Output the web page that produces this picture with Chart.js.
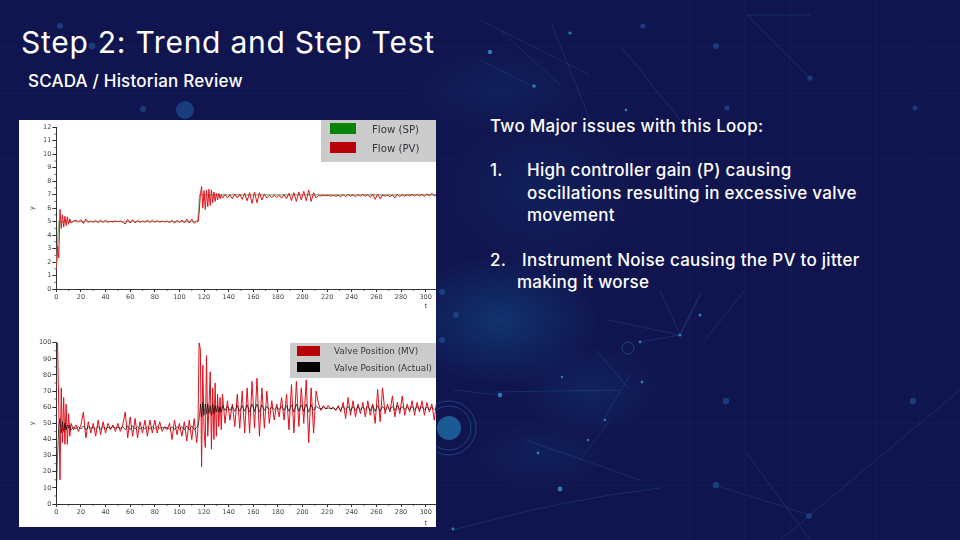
<!DOCTYPE html>
<html>
<head>
<meta charset="utf-8">
<title>Step 2: Trend and Step Test</title>
<script src="https://cdn.jsdelivr.net/npm/chart.js@4"></script>
<style>
  html, body { margin: 0; padding: 0; }
  body { width: 960px; height: 540px; overflow: hidden; position: relative; background: #11154f; font-family: Inter, sans-serif; }
  #bg { position: absolute; left: 0; top: 0; width: 960px; height: 540px; }
  .txt { position: absolute; color: #fff; white-space: nowrap; line-height: 1; }
  #title { left: 21px; top: 27px; font-size: 30px; letter-spacing: 0.75px; }
  #sub { left: 28px; top: 73px; font-size: 17px; letter-spacing: 0.2px; font-weight: 500; }
  .body { font-size: 17px; letter-spacing: 0.27px; font-weight: 500; }
  #panel { position: absolute; left: 19px; top: 120px; width: 417px; height: 407px; background: #fff; }
  canvas.plot { position: absolute; left: 19px; filter: blur(0.45px); }
  .legend { position: absolute; background: #cbcbcb; filter: blur(0.3px); }
  .legend i { position: absolute; display: block; }
  .legend span { position: absolute; font-family: "DejaVu Sans", sans-serif; color: #33363e; white-space: nowrap; line-height: 1; }
</style>
</head>
<body>
<svg id="bg" viewBox="0 0 960 540">
  <defs>
    <radialGradient id="g1" cx="0.5" cy="0.5" r="0.5">
      <stop offset="0" stop-color="#0f4a86" stop-opacity="0.7"/>
      <stop offset="1" stop-color="#0f4a86" stop-opacity="0"/>
    </radialGradient>
  </defs>
  <rect width="960" height="540" fill="#11154f"/>
  <ellipse cx="500" cy="320" rx="100" ry="65" fill="url(#g1)" opacity="0.8"/>
  <ellipse cx="590" cy="390" rx="70" ry="45" fill="url(#g1)" opacity="0.4"/>
  <ellipse cx="500" cy="90" rx="90" ry="45" fill="url(#g1)" opacity="0.3"/>
  <ellipse cx="540" cy="190" rx="100" ry="80" fill="url(#g1)" opacity="0.3"/>
  <ellipse cx="540" cy="455" rx="70" ry="35" fill="url(#g1)" opacity="0.3"/>
  <g stroke="#1c3a7c" stroke-width="0.6" opacity="0.3" fill="none">
    <path d="M0 46H960M0 93H960M0 158H960M0 360H960M0 423H960M0 485H960"/>
    <path d="M690 0V540M745 0V540M790 0V540M875 0V540M920 0V540"/>
  </g>
  <g stroke="#2a6cab" stroke-width="0.5" opacity="0.55" fill="none">
    <path d="M480 20L590 75M500 30L560 85M552 25L590 120M620 45L680 120M480 60L530 85"/>
    <path d="M660 290L680 335L700 295L680 335L640 342M608 320L680 335M745 290L705 340"/>
    <path d="M495 392L620 390M596 350L630 390M610 420L580 460M526 440L640 480M630 375L600 425"/>
    <path d="M454 390L500 395M453 530Q560 500 660 488M780 540L960 390"/>
    <path d="M746 452L810 540M715 485L810 515"/>
    <path d="M747 15H810M747 15L810 78"/>
  </g>
  <g fill="#2f8fd0" opacity="0.85">
    <circle cx="500" cy="395" r="2.2"/><circle cx="680" cy="335" r="1.6"/><circle cx="640" cy="342" r="1.4"/>
    <circle cx="700" cy="315" r="1.6"/><circle cx="642" cy="382" r="1.4"/><circle cx="538" cy="453" r="1.4"/>
    <circle cx="560" cy="489" r="2.4"/><circle cx="490" cy="52" r="2.2"/><circle cx="534" cy="86" r="1.8"/>
    <circle cx="570" cy="33" r="1.6"/><circle cx="626" cy="110" r="1.4"/><circle cx="562" cy="377" r="1.2"/>
    <circle cx="588" cy="440" r="1.2"/><circle cx="605" cy="420" r="1.2"/><circle cx="453" cy="529" r="1.4"/>
  </g>
  <g fill="#1c4f92" opacity="0.7">
    <circle cx="726" cy="401" r="3.2"/><circle cx="913" cy="401" r="3.2"/><circle cx="716" cy="485" r="3.2"/>
    <circle cx="809" cy="516" r="2.8"/><circle cx="643" cy="26" r="2.6"/><circle cx="716" cy="46" r="3"/>
    <circle cx="810" cy="78" r="2.6"/><circle cx="727" cy="108" r="2.6"/><circle cx="915" cy="108" r="2.6"/>
    <circle cx="60" cy="26" r="3"/><circle cx="92" cy="46" r="3.5"/><circle cx="185" cy="110" r="9"/>
    <circle cx="143" cy="109" r="3"/><circle cx="442" cy="292" r="3"/><circle cx="456" cy="315" r="3"/>
    <circle cx="442" cy="340" r="3"/>
  </g>
  <g fill="none" stroke="#1e5f9c" stroke-width="0.8" opacity="0.8">
    <circle cx="449" cy="428" r="27"/><circle cx="449" cy="428" r="22"/><circle cx="628" cy="348" r="6"/>
  </g>
  <circle cx="449" cy="428" r="12" fill="#1c5a94"/>
</svg>

<div class="txt" id="title">Step 2: Trend and Step Test</div>
<div class="txt" id="sub">SCADA / Historian Review</div>
<div class="txt body" style="left:490px;top:118px">Two Major issues with this Loop:</div>
<div class="txt body" style="left:490px;top:162px">1.</div>
<div class="txt body" style="left:527px;top:162px">High controller gain (P) causing</div>
<div class="txt body" style="left:527px;top:185px">oscillations resulting in excessive valve</div>
<div class="txt body" style="left:527px;top:207px">movement</div>
<div class="txt body" style="left:490px;top:252px">2.</div>
<div class="txt body" style="left:522px;top:252px">Instrument Noise causing the PV to jitter</div>
<div class="txt body" style="left:517px;top:274px">making it worse</div>

<div id="panel"></div>
<canvas class="plot" id="flowChart" width="417" height="190" style="top:120px"></canvas>
<canvas class="plot" id="valveChart" width="417" height="197" style="top:330px"></canvas>

<div class="legend" style="left:321px;top:120px;width:115px;height:42px">
  <i style="left:9px;top:3px;width:26px;height:11px;background:#078407"></i>
  <span style="left:51px;top:5px;font-size:10.2px">Flow (SP)</span>
  <i style="left:9px;top:22px;width:26px;height:11px;background:#b80008"></i>
  <span style="left:51px;top:24px;font-size:10.2px">Flow (PV)</span>
</div>
<div class="legend" style="left:290px;top:343px;width:146px;height:35px">
  <i style="left:7px;top:3px;width:23px;height:10px;background:#b80008"></i>
  <span style="left:44px;top:4px;font-size:8.8px">Valve Position (MV)</span>
  <i style="left:7px;top:19px;width:23px;height:10px;background:#000"></i>
  <span style="left:44px;top:21px;font-size:8.8px">Valve Position (Actual)</span>
</div>

<script>
// 시간축 공통 (t)
const times = [
  0,1,2,3,4,5,6,7,8,9,10,11,12,
  14,16,18,20,22,24,26,28,30,32,34,36,38,40,42,44,46,48,50,52,54,56,58,60,62,64,
  66,68,70,72,74,76,78,80,82,84,86,88,90,92,94,96,98,100,102,104,106,108,110,112,114,
  115,116,117,118,119,120,121,122,123,124,125,126,127,128,129,130,131,132,133,134,135,
  137,139,141,143,145,147,149,151,153,155,157,159,161,163,165,167,169,171,173,175,177,179,
  181,183,185,187,189,191,193,195,197,199,201,203,205,207,209,211,213,215,217,219,221,223,
  225,227,229,231,233,235,237,239,241,243,245,247,249,251,253,255,257,259,261,263,265,267,
  269,271,273,275,277,279,281,283,285,287,289,291,293,295,297,299,301,303,305,307,309
];

const spTimes = [0, 2, 115, 116.5, 309];
const flowSp = [1.5, 5, 5, 7, 7];

const flowPv = [
  1.5,3.2,2.3,5.9,4.5,5.5,4.6,5.4,4.7,5.35,4.8,5.2,4.9,
  5.05,5.1,4.98,5.15,4.85,5.2,4.95,5.05,4.95,5.1,4.92,5.12,4.95,5.1,4.96,5.03,4.98,5.06,5.0,5.05,4.96,4.82,5.15,4.9,5.15,4.9,
  5.1,4.95,5.05,4.95,5.12,4.93,5.12,4.95,5.08,4.95,5.05,4.98,5.05,4.93,5.1,4.88,5.1,4.93,5.12,4.9,5.18,4.9,5.2,4.88,5.05,
  5.0,5.6,7.0,7.6,6.0,7.3,5.9,7.35,6.1,7.4,6.2,7.35,6.4,7.2,6.5,7.1,6.6,7.1,6.7,7.0,6.75,
  7.0,6.75,7.0,6.7,7.05,6.75,7.05,6.65,7.1,6.55,7.15,6.35,7.2,6.4,7.15,6.6,7.05,6.75,6.95,6.8,6.95,6.8,
  6.95,6.75,7.0,6.7,7.1,6.55,7.15,6.5,7.2,6.6,7.25,6.55,7.35,6.5,7.15,6.75,6.95,6.9,6.95,6.92,6.95,6.9,
  6.94,6.88,6.95,6.85,7.0,6.85,7.02,6.88,7.0,6.85,7.0,6.88,7.02,6.9,7.0,6.8,7.05,6.65,7.05,6.7,6.98,6.88,
  6.98,6.85,6.98,6.75,7.02,6.85,7.0,6.9,7.0,6.92,7.02,6.9,7.03,6.9,7.02,6.88,7.05,6.9,7.1,6.9,7.0
];

const valveMv = [
  100,100,60,15,72,38,66,37,62,37,56,42,50,
  46,49,45,49,57,41,51,44,50,42,52,43,51,44,50,46,49,45,50,45,49,57,41,54,42,53,
  41,51,44,52,42,52,44,52,44,51,45,48,46,50,40,52,43,50,42,51,39,52,40,53,38,
  46,100,96,23,86,45,35,92,42,60,82,34,72,40,75,42,68,48,66,46,68,
  50,64,52,62,48,68,47,70,44,72,44,76,47,78,42,72,47,70,50,64,52,62,
  54,66,52,68,46,74,44,76,48,72,50,77,38,72,44,70,62,58,61,59,61,59,
  60,58,61,57,63,53,66,55,64,54,62,56,63,54,64,55,62,50,71,51,72,56,
  62,57,67,54,63,56,67,55,62,57,64,55,63,57,64,55,63,57,62,52,64
];

const valveActual = [
  6,30,48,53,44,51,45,50,46,49,47,49,46,
  47.5,46.5,48,46.5,48.5,46,48,47,47.5,46.5,48,46.5,48,46.5,47.5,47,48,47,47.5,47,48,46,48.5,46,48.5,46.5,
  48,46.5,47.5,46.5,48,46.5,48,46.5,48,47,47.5,47,47.5,46.5,48,46,48,46.5,48,46,48.5,46,48.5,46,47.5,
  48,52,62,54,63,55,62,56,62,56,61,55,62,56,61,57,61,57,60,57,61,
  58,60.5,58,60.5,57.5,61,57.5,61,57.5,61.5,57,62,57.5,62,57,61.5,58,60.5,58.5,60,58.5,60,
  58.5,60.5,58,61,57.5,61.5,57,62,57.5,61.5,57.5,62,57,61.5,58,60.5,59.5,59,60,59,59.5,59,
  59.5,58.5,60,58.5,60.5,58.5,60.5,58,60.5,58,60.5,58.5,60,58.5,60.5,58,61,57.5,61,57.5,60.5,58.5,
  60,58.5,60.5,58,61,58.5,60.5,58.5,60,58.5,60.5,58.5,60.5,58.5,60.5,58.5,60,58.5,60,58.5,59.5
];

const flowTicks = [0,1,2,3,4,5,6,7,8,9,10,11,12];
const valveTicks = [0,10,20,30,40,50,60,70,80,90,100];
const axisColor = '#333';
const tickFont = { family: 'DejaVu Sans', size: 6.5 };

function toPoints(xs, ys) {
  return xs.map((t, i) => ({ x: t, y: ys[i] }));
}

// 작은 눈금과 t 라벨
const minorTicks = {
  id: 'minorTicks',
  afterDraw(chart, args, opts) {
    const { ctx, scales: { x, y } } = chart;
    ctx.save();
    ctx.strokeStyle = axisColor;
    ctx.lineWidth = 0.7;
    ctx.beginPath();
    for (let v = 10; v < x.max; v += 20) {
      ctx.moveTo(x.getPixelForValue(v), y.bottom);
      ctx.lineTo(x.getPixelForValue(v), y.bottom + 2);
    }
    for (let v = opts.yStep / 2; v < y.max; v += opts.yStep) {
      ctx.moveTo(x.left, y.getPixelForValue(v));
      ctx.lineTo(x.left - 2, y.getPixelForValue(v));
    }
    ctx.stroke();
    ctx.fillStyle = axisColor;
    ctx.font = '6.5px "DejaVu Sans"';
    ctx.textAlign = 'center';
    ctx.fillText('t', x.getPixelForValue(300), chart.height - 2);
    ctx.restore();
  }
};

function createChart(canvasId, datasets, yMax, yTicks, topPad, axisH) {
  const ctx = document.getElementById(canvasId).getContext('2d');
  return new Chart(ctx, {
    type: 'line',
    data: { datasets: datasets },
    plugins: [minorTicks],
    options: {
      responsive: false,
      animation: false,
      parsing: false,
      normalized: true,
      layout: { padding: { top: topPad, right: 0, left: 0, bottom: 0 } },
      elements: { point: { radius: 0 }, line: { tension: 0, borderJoinStyle: 'miter' } },
      plugins: {
        legend: { display: false },
        tooltip: { enabled: false },
        minorTicks: { yStep: yTicks[1] - yTicks[0] >= 10 ? 10 : 1 }
      },
      scales: {
        x: {
          type: 'linear',
          min: 0,
          max: 308.4,
          afterFit: s => { s.height = axisH; },
          grid: { drawOnChartArea: false, color: axisColor, tickLength: 3, tickColor: axisColor },
          border: { color: axisColor, width: 1 },
          ticks: { stepSize: 20, includeBounds: false, maxRotation: 0, autoSkip: false, padding: 1, color: '#444', font: tickFont }
        },
        y: {
          type: 'linear',
          min: 0,
          max: yMax,
          afterFit: s => { s.width = 37.3; },
          afterBuildTicks: s => { s.ticks = yTicks.map(v => ({ value: v })); },
          grid: { drawOnChartArea: false, color: axisColor, tickLength: 4, tickColor: axisColor },
          border: { color: axisColor, width: 1 },
          title: { display: true, text: 'y', color: '#444', font: tickFont, padding: { top: 9, bottom: 0 } },
          ticks: { padding: 1, color: '#444', font: tickFont }
        }
      }
    }
  });
}

createChart('flowChart', [
  { label: 'Flow (SP)', data: toPoints(spTimes, flowSp), borderColor: '#8cc08c', borderWidth: 1.4, order: 1 },
  { label: 'Flow (PV)', data: toPoints(times, flowPv), borderColor: '#e0141e', borderWidth: 1, order: 0 }
], 12, flowTicks, 7.3, 21);

createChart('valveChart', [
  { label: 'Valve Position (MV)', data: toPoints(times, valveMv), borderColor: '#e0101c', borderWidth: 1, order: 1 },
  { label: 'Valve Position (Actual)', data: toPoints(times, valveActual), borderColor: 'rgba(0,0,0,0.8)', borderWidth: 0.8, order: 0 }
], 100, valveTicks, 12.7, 23);
</script>
</body>
</html>
